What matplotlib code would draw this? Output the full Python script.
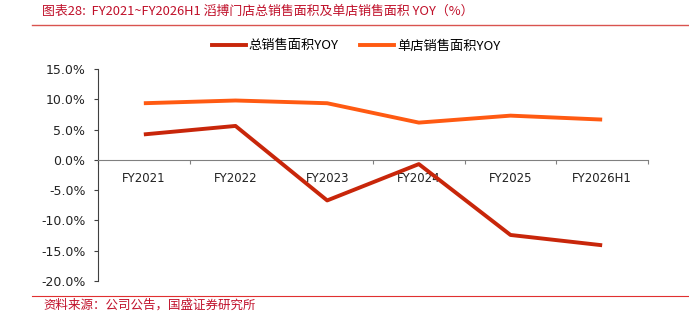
import matplotlib.pyplot as plt
import numpy as np
from matplotlib.lines import Line2D

plt.rcParams['font.family'] = ['Noto Sans CJK SC', 'DejaVu Sans']

years = ["FY2021", "FY2022", "FY2023", "FY2024", "FY2025", "FY2026H1"]
total_area_yoy = [4.2, 5.6, -6.7, -0.7, -12.4, -14.1]
store_area_yoy = [9.35, 9.8, 9.35, 6.15, 7.3, 6.65]

RED = "#C8260A"
ORANGE = "#FF5A12"
TITLE_RED = "#C0102A"

fig = plt.figure(figsize=(6.89, 3.28), dpi=100)
ax = fig.add_axes([98 / 689, 1 - 281 / 328, 550 / 689, 212 / 328])

x = np.arange(len(years))
ax.plot(x, total_area_yoy, color=RED, lw=2.8, solid_capstyle="butt", zorder=3)
ax.plot(x, store_area_yoy, color=ORANGE, lw=2.8, solid_capstyle="butt", zorder=3)

ax.set_xlim(-0.5, len(years) - 0.5)
ax.set_ylim(-20, 15)
ax.set_yticks(np.arange(-20, 16, 5))
ax.set_yticklabels([f"{v:.1f}%" for v in np.arange(-20, 16, 5)],
                   family="DejaVu Sans", fontsize=9, color="#222222")

# category axis sits on the zero line, ticks at category boundaries
ax.spines["top"].set_visible(False)
ax.spines["right"].set_visible(False)
ax.spines["bottom"].set_position(("data", 0))
ax.spines["bottom"].set_color("#808080")
ax.spines["left"].set_color("#404040")
ax.set_xticks(np.arange(-0.5, len(years), 1))
ax.set_xticklabels([])
ax.set_xticks(x, minor=True)
ax.set_xticklabels(years, minor=True, family="DejaVu Sans", fontsize=8.5, color="#222222")
ax.tick_params(axis="x", which="major", direction="out", length=3, color="#808080")
ax.tick_params(axis="x", which="minor", length=0, pad=9)
ax.tick_params(axis="y", direction="out", length=3, color="#404040", pad=6)

handles = [Line2D([], [], color=RED, lw=2.8), Line2D([], [], color=ORANGE, lw=2.8)]
fig.legend(handles, ["总销售面积YOY", "单店销售面积YOY"], loc="center",
           bbox_to_anchor=(356 / 689, 1 - 46 / 328), ncol=2, frameon=False,
           fontsize=9.5, handlelength=2.6, handletextpad=0.2, columnspacing=1.6)

fig.text(42 / 689, 1 - 11 / 328,
         "图表28:  FY2021~FY2026H1 滔搏门店总销售面积及单店销售面积 YOY（%）",
         color=TITLE_RED, fontsize=9.3, style="italic", va="center", ha="left")
fig.add_artist(Line2D([32 / 689, 1], [1 - 25 / 328] * 2, color="#D9534F", lw=1))

fig.add_artist(Line2D([32 / 689, 1], [1 - 295.5 / 328] * 2, color="#E03030", lw=0.8))
fig.text(43 / 689, 1 - 305 / 328, "资料来源：公司公告，国盛证券研究所",
         color=TITLE_RED, fontsize=9, style="italic", va="center", ha="left")

fig.savefig("out.png", dpi=100, facecolor="white")
